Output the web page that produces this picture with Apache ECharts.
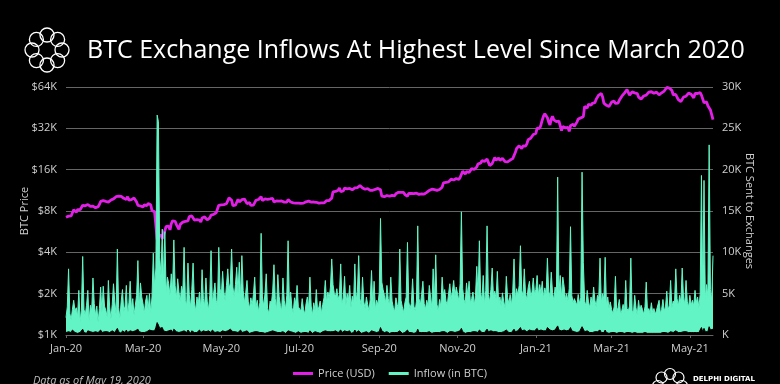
<!DOCTYPE html>
<html>
<head>
<meta charset="utf-8">
<script src="https://cdn.jsdelivr.net/npm/echarts@6/dist/echarts.min.js"></script>
<style>
html,body{margin:0;padding:0;background:#000;}
#chart{width:780px;height:384px;}
</style>
</head>
<body>
<div id="chart"></div>
<script>
// Daily BTC price in thousands of USD, 2020-01-01 .. 2021-05-19
const priceK = [
7.20,6.99,7.34,7.35,7.36,7.76,8.16,8.04,7.82,8.20,8.02,8.18,8.11,8.81,8.82,8.72,8.93,8.92,8.70,8.63,8.74,8.68,8.41,8.44,8.37,8.60,8.91,9.39,9.30,9.51,9.35,
9.39,9.34,9.29,9.18,9.61,9.73,9.80,9.91,10.17,9.85,10.27,10.35,10.24,10.36,9.90,9.93,9.71,10.18,9.59,9.61,9.69,9.66,9.96,9.66,9.32,8.79,8.81,8.70,8.57,
8.56,8.87,8.79,8.76,9.08,9.15,8.89,8.04,7.95,7.91,7.91,4.97,5.56,5.20,5.39,5.01,5.35,5.42,6.19,6.19,6.20,5.83,6.46,6.77,6.68,6.73,6.37,6.25,5.88,6.39,6.44,
6.64,6.79,6.73,6.87,6.77,7.27,7.18,7.37,7.30,6.87,6.89,6.92,6.84,6.87,6.64,7.12,7.10,7.26,7.19,6.88,6.88,7.12,7.48,7.51,7.55,7.69,7.77,7.76,8.80,8.66,
8.86,8.99,8.91,8.88,9.03,9.15,9.97,9.81,9.59,8.76,8.60,8.82,9.27,9.73,9.31,9.38,9.67,9.73,9.78,9.51,9.06,9.18,9.21,8.79,8.91,8.84,9.20,9.58,9.43,9.70,9.46,
10.17,9.52,9.66,9.80,9.65,9.74,9.67,9.80,9.77,9.87,9.32,9.48,9.47,9.39,9.43,9.53,9.46,9.38,9.29,9.33,9.29,9.69,9.63,9.30,9.25,9.16,9.01,9.12,9.19,9.14,
9.23,9.09,9.07,9.13,9.07,9.34,9.25,9.43,9.23,9.29,9.24,9.30,9.24,9.26,9.20,9.13,9.15,9.17,9.21,9.16,9.39,9.52,9.58,9.54,9.68,9.93,11.03,10.94,11.10,11.11,11.32,
11.80,11.07,11.23,11.19,11.74,11.77,11.60,11.75,11.68,11.88,11.41,11.58,11.78,11.77,11.86,11.91,12.25,11.99,11.75,11.86,11.52,11.66,11.65,11.75,11.32,11.46,11.32,11.54,11.51,11.71,11.68,
11.97,11.41,10.25,10.51,10.17,10.28,10.37,10.13,10.24,10.36,10.40,10.44,10.32,10.68,10.79,10.95,10.95,10.93,11.09,10.92,10.54,10.53,10.24,10.74,10.69,10.73,10.77,10.70,10.84,10.78,
10.62,10.57,10.55,10.67,10.79,10.60,10.67,10.92,11.06,11.30,11.37,11.54,11.43,11.43,11.51,11.32,11.36,11.48,11.75,11.92,12.82,12.97,12.93,13.12,13.03,13.07,13.64,13.27,13.46,13.56,13.80,
13.74,13.55,14.03,14.13,15.58,15.57,14.83,15.48,15.33,15.30,15.70,16.28,16.32,16.07,15.96,16.72,17.66,17.80,17.82,18.62,18.68,18.37,18.36,19.17,18.73,17.15,17.14,17.72,18.18,19.63,
18.80,19.20,19.45,18.70,19.15,19.36,19.17,18.32,18.55,18.26,18.06,18.80,19.14,19.25,19.43,21.31,22.81,23.14,23.87,23.48,22.75,23.82,23.25,23.72,24.66,26.44,26.27,27.08,27.36,28.84,29.00,
29.37,32.13,32.78,31.97,33.99,36.82,39.37,40.80,40.25,38.24,35.54,33.92,37.32,39.19,36.83,36.03,35.79,36.63,36.07,35.55,30.83,33.00,32.08,32.26,32.37,32.57,30.43,33.47,34.32,34.32,33.11,
33.54,35.51,37.47,36.93,38.14,39.27,38.90,46.20,46.48,44.92,47.91,47.50,47.11,48.72,47.94,49.20,52.15,51.68,55.89,55.92,57.49,54.21,48.82,49.71,47.06,46.28,46.11,45.14,
49.63,48.38,50.54,48.56,48.93,48.91,51.21,52.38,54.88,55.96,57.81,57.23,61.19,59.23,55.88,56.77,58.92,57.65,58.03,58.10,57.35,54.08,54.34,52.30,51.32,55.03,55.86,55.78,57.63,58.73,58.92,
59.10,59.00,57.60,58.76,58.73,58.05,56.05,57.96,58.08,59.77,59.79,59.98,63.50,63.11,62.92,61.40,60.32,56.21,55.72,56.47,53.91,51.76,51.09,50.05,49.00,54.02,55.03,54.82,53.55,57.75,
57.83,56.63,57.21,53.24,57.47,56.43,57.38,58.88,58.28,55.86,56.75,49.15,49.72,49.88,46.76,46.43,43.54,42.91,37.00
];

// Daily BTC sent to exchanges, thousands of BTC
const inflowK = [
2.1,3.4,8.0,2.6,1.8,3.1,4.2,2.9,3.3,2.2,5.4,1.6,3.0,9.5,3.1,2.4,3.6,5.4,1.7,3.6,2.9,6.9,3.8,2.4,3.5,1.5,3.2,5.8,2.7,5.9,3.5,
3.0,2.2,6.6,3.4,1.9,3.7,6.2,4.0,2.5,10.4,3.3,2.0,4.1,5.5,2.8,3.5,6.0,2.3,3.9,6.5,3.1,4.4,2.4,3.6,4.8,9.0,3.2,6.3,4.6,
3.8,2.6,4.1,4.8,3.0,5.0,2.7,4.6,9.9,5.8,8.1,26.6,25.8,9.4,7.2,12.8,6.4,12.5,5.1,7.0,6.2,4.8,7.4,5.3,11.5,6.0,4.4,6.8,5.2,4.0,5.9,
5.1,10.6,4.2,3.6,8.7,4.9,3.3,5.5,8.7,4.0,2.9,4.6,3.8,5.2,3.1,7.9,4.4,3.5,6.9,4.1,3.0,4.8,10.2,3.9,5.0,6.3,4.2,3.7,10.6,5.6,
4.8,7.7,5.2,4.1,6.0,8.0,5.5,6.3,10.4,5.8,4.6,6.1,8.2,5.0,8.8,4.3,9.6,5.4,3.9,5.1,6.6,4.0,3.2,4.5,3.6,4.9,7.0,3.4,4.2,2.8,3.9,
12.3,4.6,3.5,5.0,7.4,3.2,2.6,4.1,3.8,5.3,8.5,4.4,3.0,7.3,4.7,3.6,2.9,6.9,4.2,3.1,4.8,11.4,3.9,5.2,3.3,2.7,4.5,3.8,6.0,3.4,
3.6,2.9,4.4,3.1,2.5,3.8,4.6,3.2,7.0,3.5,2.4,3.9,3.0,5.5,2.8,3.4,4.1,2.6,3.7,4.5,6.6,3.9,5.2,4.4,5.8,9.2,6.1,5.0,4.7,5.6,4.3,
4.9,8.6,3.8,4.5,7.1,3.6,5.0,4.2,6.0,3.3,4.7,3.9,8.6,4.1,5.3,9.6,4.4,3.5,7.0,4.0,3.2,4.6,3.7,2.9,4.3,7.8,3.4,6.5,3.1,4.2,3.6,
5.2,14.1,6.4,5.5,4.8,3.9,6.0,4.4,3.6,7.0,4.1,3.3,2.8,4.5,3.7,3.1,10.4,4.2,3.4,2.7,3.9,4.6,11.2,4.0,3.2,3.8,6.8,3.5,2.9,4.1,
13.2,4.4,3.6,4.9,6.5,3.8,3.1,4.2,3.5,6.0,4.6,3.3,8.0,4.0,9.7,3.7,2.9,4.3,3.4,7.0,4.8,5.5,4.1,3.6,5.0,6.2,4.4,5.3,6.6,4.7,5.8,
5.0,4.1,6.2,14.9,5.6,4.3,3.8,6.3,4.7,6.5,3.9,4.4,5.2,3.6,4.8,8.3,4.5,11.4,5.1,4.2,7.2,3.7,5.4,13.2,4.9,4.0,5.5,8.1,4.6,5.3,
4.4,7.7,3.9,4.6,3.5,5.1,4.0,3.3,7.1,4.5,3.8,4.9,3.6,5.3,9.2,4.2,5.6,4.8,6.0,10.8,5.4,4.7,8.0,5.0,4.3,5.7,6.5,4.6,5.2,6.9,4.9,
5.5,7.2,4.8,6.1,5.0,6.5,4.4,5.7,4.9,9.3,5.3,4.6,7.6,5.1,4.2,5.8,4.7,19.1,5.2,7.2,4.5,7.0,5.9,4.3,5.0,4.1,5.6,13.1,4.8,3.9,4.4,
4.2,3.6,4.9,3.8,4.5,19.7,8.8,4.1,3.5,5.4,4.0,3.3,4.6,3.7,5.8,4.2,3.4,4.8,4.4,9.3,3.9,5.0,4.3,9.4,3.6,4.6,3.2,4.0,
3.1,2.6,3.4,7.1,2.8,3.3,4.3,2.5,3.0,3.7,2.7,6.6,3.2,2.9,3.5,9.3,3.0,2.6,4.8,3.3,2.4,4.2,2.9,3.6,3.1,2.5,3.4,6.4,2.8,3.2,2.6,
3.9,2.7,3.2,2.5,3.0,2.8,4.2,2.6,3.1,4.3,2.9,3.4,5.3,3.0,3.6,6.6,3.3,4.1,3.8,8.0,4.4,3.5,4.8,3.9,8.1,4.6,3.7,6.6,4.0,3.4,
4.8,3.6,4.2,3.5,5.4,3.9,4.6,3.3,4.9,19.3,5.2,18.7,4.4,6.1,4.7,23.0,5.5,4.2,9.6
];

// Dark low band drawn at the foot of the inflow area (thousands of BTC)
const baseK = [
0.3,0.5,0.4,0.2,0.3,0.6,0.4,0.3,0.5,0.2,0.4,0.3,0.5,0.7,0.3,0.4,0.2,0.5,0.3,0.4,0.6,0.3,0.2,0.4,0.5,0.3,0.4,0.6,0.3,0.5,0.4,
0.3,0.4,0.6,0.3,0.2,0.5,0.4,0.3,0.5,0.8,0.4,0.3,0.2,0.5,0.4,0.3,0.6,0.3,0.4,0.5,0.3,0.4,0.2,0.5,0.3,0.7,0.4,0.5,0.3,
0.4,0.3,0.5,0.4,0.3,0.6,0.4,0.5,0.7,0.5,0.9,1.5,1.2,0.8,0.6,0.9,0.5,0.7,0.4,0.6,0.5,0.4,0.6,0.3,0.7,0.5,0.4,0.6,0.3,0.5,0.4,
0.3,0.5,0.4,0.3,0.6,0.4,0.2,0.5,0.4,0.3,0.5,0.3,0.4,0.6,0.3,0.4,0.5,0.3,0.4,0.2,0.5,0.4,0.3,0.6,0.4,0.3,0.5,0.4,0.6,0.3,
0.4,0.5,0.3,0.4,0.6,0.5,0.3,0.7,0.5,0.4,0.6,0.4,0.5,0.3,0.4,0.6,0.3,0.5,0.4,0.3,0.5,0.4,0.2,0.4,0.3,0.5,0.4,0.3,0.4,0.2,0.3,
0.4,0.3,0.5,0.2,0.4,0.3,0.2,0.4,0.3,0.5,0.3,0.4,0.2,0.3,0.5,0.3,0.2,0.4,0.3,0.2,0.4,0.5,0.3,0.4,0.2,0.3,0.4,0.2,0.3,0.4,
0.3,0.2,0.4,0.3,0.2,0.3,0.4,0.2,0.5,0.3,0.2,0.3,0.4,0.2,0.3,0.4,0.2,0.3,0.4,0.3,0.5,0.3,0.4,0.3,0.4,0.6,0.4,0.3,0.5,0.4,0.3,
0.4,0.6,0.3,0.4,0.5,0.3,0.4,0.3,0.5,0.2,0.4,0.3,0.6,0.3,0.4,0.5,0.3,0.2,0.4,0.3,0.2,0.4,0.3,0.2,0.3,0.5,0.3,0.4,0.2,0.3,0.3,
0.4,0.9,0.5,0.4,0.3,0.3,0.4,0.3,0.2,0.4,0.3,0.2,0.3,0.4,0.3,0.2,0.5,0.3,0.2,0.3,0.3,0.4,0.6,0.3,0.2,0.3,0.4,0.2,0.3,0.3,
0.7,0.3,0.2,0.3,0.4,0.3,0.2,0.3,0.3,0.4,0.3,0.2,0.4,0.3,0.5,0.3,0.2,0.3,0.2,0.4,0.3,0.4,0.3,0.2,0.3,0.4,0.3,0.4,0.5,0.3,0.4,
0.4,0.3,0.5,0.8,0.4,0.3,0.2,0.4,0.3,0.4,0.3,0.2,0.4,0.3,0.4,0.5,0.3,0.6,0.4,0.3,0.5,0.3,0.4,0.7,0.4,0.3,0.5,0.6,0.4,0.5,
0.4,0.5,0.3,0.4,0.3,0.5,0.4,0.3,0.6,0.4,0.3,0.4,0.3,0.5,0.7,0.4,0.6,0.5,0.6,0.9,0.5,0.4,0.6,0.5,0.4,0.5,0.6,0.4,0.5,0.7,0.5,
0.6,0.8,0.5,0.7,0.6,0.7,0.5,0.6,0.5,0.9,0.7,0.6,0.8,0.5,0.4,0.6,0.5,1.1,0.6,0.7,0.5,0.7,0.6,0.4,0.5,0.4,0.6,0.9,0.5,0.4,0.4,
0.4,0.3,0.5,0.4,0.5,1.0,0.7,0.4,0.3,0.5,0.4,0.3,0.4,0.3,0.5,0.4,0.3,0.4,0.3,0.6,0.3,0.4,0.3,0.6,0.3,0.4,0.2,0.3,
0.3,0.2,0.3,0.5,0.2,0.3,0.3,0.2,0.3,0.3,0.2,0.4,0.3,0.2,0.3,0.5,0.2,0.2,0.3,0.3,0.2,0.3,0.2,0.3,0.2,0.2,0.3,0.4,0.2,0.3,0.2,
0.3,0.2,0.2,0.2,0.3,0.2,0.3,0.2,0.2,0.3,0.2,0.3,0.4,0.2,0.3,0.4,0.3,0.3,0.3,0.5,0.3,0.3,0.3,0.3,0.5,0.4,0.3,0.4,0.3,0.3,
0.4,0.3,0.3,0.3,0.4,0.3,0.4,0.3,0.4,0.9,0.4,0.8,0.4,0.5,0.4,1.0,0.6,0.5,0.7
];

const priceTicksK = [1, 2, 4, 8, 16, 32, 64];
const inflowTicksK = [0, 5, 10, 15, 20, 25, 30];
const MONTHS = ['Jan','Feb','Mar','Apr','May','Jun','Jul','Aug','Sep','Oct','Nov','Dec'];
const START = Date.UTC(2020, 0, 1);
const dates = priceK.map((_, i) => new Date(START + i * 86400000).toISOString().slice(0, 10));

const isLabelDay = (i, v) => v.slice(8) === '01' && (+v.slice(5, 7)) % 2 === 1;

const FONT = 'Open Sans';
const MAGENTA = '#e21fe6';
const MINT = '#62f4c4';

function ring(cx, cy, R, r, n, lw) {
  const out = [];
  for (let k = 0; k < n; k++) {
    const a = -Math.PI / 2 + k * 2 * Math.PI / n;
    out.push({
      type: 'circle',
      shape: { cx: cx + R * Math.cos(a), cy: cy + R * Math.sin(a), r: r },
      style: { fill: 'none', stroke: '#fff', lineWidth: lw },
      silent: true
    });
  }
  return out;
}

const chart = echarts.init(document.getElementById('chart'), null, { renderer: 'canvas' });
chart.setOption({
  backgroundColor: '#000',
  animation: false,
  textStyle: { fontFamily: FONT },
  title: {
    text: 'BTC Exchange Inflows At Highest Level Since March 2020',
    left: 82, top: 33,
    textStyle: { color: '#fff', fontSize: 25, fontWeight: 'normal', fontFamily: FONT }
  },
  grid: { left: 66, right: 67, top: 87, bottom: 49 },
  legend: {
    data: ['Price (USD)', 'Inflow (in BTC)'],
    left: 'center', top: 363,
    icon: 'rect', itemWidth: 20, itemHeight: 3, itemGap: 14,
    textStyle: { color: '#cfcfcf', fontSize: 11, fontFamily: FONT }
  },
  xAxis: {
    type: 'category',
    data: dates,
    boundaryGap: false,
    axisLine: { lineStyle: { color: '#666' } },
    axisTick: { show: true, interval: isLabelDay, length: 3, lineStyle: { color: '#666' } },
    axisLabel: {
      interval: isLabelDay,
      color: '#cfcfcf', fontSize: 11, margin: 8,
      formatter: v => MONTHS[+v.slice(5, 7) - 1] + '-' + v.slice(2, 4)
    },
    splitLine: { show: false }
  },
  yAxis: [
    {
      type: 'log', logBase: 2,
      min: priceTicksK[0], max: priceTicksK[priceTicksK.length - 1],
      splitNumber: priceTicksK.length - 1,
      name: 'BTC Price', nameLocation: 'middle', nameGap: 36, nameRotate: 90,
      nameMoveOverlap: false,
      nameTextStyle: { color: '#cfcfcf', fontSize: 11 },
      axisLine: { show: false }, axisTick: { show: false },
      axisLabel: { color: '#cfcfcf', fontSize: 11, margin: 9, formatter: v => '$' + Math.round(v) + 'K' },
      splitLine: { lineStyle: { color: '#666', width: 1 } }
    },
    {
      type: 'value',
      min: inflowTicksK[0], max: inflowTicksK[inflowTicksK.length - 1],
      interval: inflowTicksK[1] - inflowTicksK[0],
      position: 'right',
      name: 'BTC Sent to Exchanges', nameLocation: 'middle', nameGap: 31, nameRotate: -90,
      nameMoveOverlap: false,
      nameTextStyle: { color: '#cfcfcf', fontSize: 11 },
      axisLine: { show: false }, axisTick: { show: false },
      axisLabel: { color: '#cfcfcf', fontSize: 11, margin: 9, formatter: v => (v === 0 ? 'K' : v + 'K') },
      splitLine: { show: false }
    }
  ],
  series: [
    {
      name: 'Price (USD)', type: 'line', yAxisIndex: 0, data: priceK,
      showSymbol: false, symbol: 'none', z: 2,
      itemStyle: { color: MAGENTA },
      lineStyle: { color: MAGENTA, width: 2.8 }
    },
    {
      name: 'Inflow (in BTC)', type: 'line', yAxisIndex: 1, data: inflowK,
      showSymbol: false, symbol: 'none', z: 3,
      itemStyle: { color: MINT },
      lineStyle: { color: MINT, width: 1 },
      areaStyle: { color: MINT, opacity: 1 }
    },
    {
      name: 'base', type: 'line', yAxisIndex: 1, data: baseK,
      showSymbol: false, symbol: 'none', z: 4,
      itemStyle: { color: '#000' },
      lineStyle: { color: '#000', width: 1 },
      areaStyle: { color: '#000', opacity: 1 }
    }
  ],
  graphic: [
    ...ring(47, 50, 15, 7, 8, 1.3),
    ...ring(670, 386, 12, 5.5, 8, 1.2),
    {
      type: 'text', left: 693, top: 376, silent: true,
      style: { text: 'DELPHI DIGITAL', fill: '#fff', font: 'bold 7px "DejaVu Sans"' }
    },
    {
      type: 'text', left: 33, top: 375, silent: true,
      style: { text: 'Data as of May 19, 2020', fill: '#bdbdbd', font: 'italic 11px "Open Sans"' }
    }
  ]
});
</script>
</body>
</html>
